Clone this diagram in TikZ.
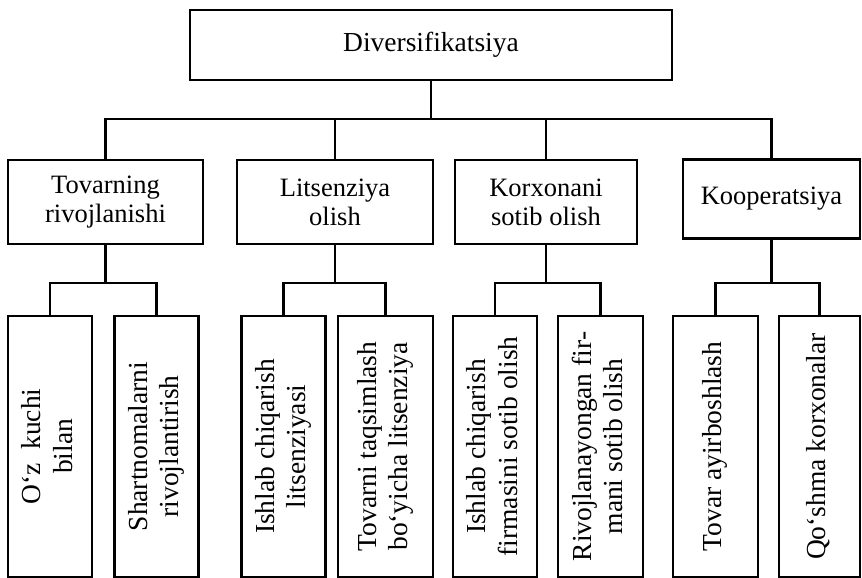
\documentclass[tikz,border=0pt]{standalone}
\usepackage{fontspec}
\setmainfont{Liberation Serif}
\usepackage{graphicx}
\newcommand{\vtext}[1]{\rotatebox{90}{\begin{tabular}{@{}c@{}}#1\end{tabular}}}
\renewcommand{\arraystretch}{1.05}

\begin{document}
\begin{tikzpicture}[x=1pt,y=-1pt,line width=2.2pt,
  box/.style={draw,align=center,inner sep=0pt,font=\fontsize{26.5}{29}\selectfont},
  leaf/.style={box,minimum width=84pt,minimum height=261pt,font=\fontsize{27.5}{30}\selectfont}]
\useasboundingbox (0,0) rectangle (862,578);

\node[box,minimum width=482pt,minimum height=70pt,font=\fontsize{27.5}{30}\selectfont] (Div) at (431,45) {Diversifikatsiya};

\node[box,minimum width=195pt,minimum height=84pt] (Tov) at (105.5,202) {Tovarning\\rivojlanishi};
\node[box,minimum width=196pt,minimum height=84pt] (Lit) at (335,202) {Litsenziya\\olish};
\node[box,minimum width=182pt,minimum height=84pt] (Kor) at (546,202) {Korxonani\\sotib olish};
\node[box,minimum width=177pt,minimum height=79pt] (Koop) at (771.5,199) {Kooperatsiya};

\node[leaf] (OzK) at (50,446.5) {\vtext{O‘z~ kuchi\\bilan}};
\node[leaf] (Shart) at (156.5,446.5) {\vtext{Shartnomalarni\\rivojlantirish}};
\node[leaf] (IshLit) at (283.5,446.5) {\vtext{Ishlab chiqarish\\litsenziyasi}};
\node[leaf,minimum width=95pt] (TovLit) at (385.5,446.5) {\vtext{Tovarni taqsimlash\\bo‘yicha litsenziya}};
\node[leaf] (IshFir) at (495,446.5) {\vtext{Ishlab chiqarish\\firmasini sotib olish}};
\node[leaf,minimum width=85pt] (RivFir) at (600.5,446.5) {\vtext{Rivojlanayongan fir-\\mani sotib olish}};
\node[leaf,minimum width=85pt] (TovAy) at (715.5,446.5) {\vtext{Tovar ayirboshlash}};
\node[leaf,minimum width=81pt] (Qosh) at (819.5,446.5) {\vtext{Qo‘shma korxonalar}};

\draw (Div.south) -- ++(0,38) coordinate (b0);
\draw (b0) -| (Tov.north);
\draw (b0) -| (Lit.north);
\draw (b0) -| (Kor.north);
\draw (b0) -| (Koop.north);

\draw (Tov.south) -- (Tov.south |- 0,283) coordinate (b1);
\draw (b1) -| (OzK.north);
\draw (b1) -| (Shart.north);
\draw (Lit.south) -- (Lit.south |- 0,283) coordinate (b2);
\draw (b2) -| (IshLit.north);
\draw (b2) -| (TovLit.north);
\draw (Kor.south) -- (Kor.south |- 0,283) coordinate (b3);
\draw (b3) -| (IshFir.north);
\draw (b3) -| (RivFir.north);
\draw (Koop.south) -- (Koop.south |- 0,283) coordinate (b4);
\draw (b4) -| (TovAy.north);
\draw (b4) -| (Qosh.north);

\end{tikzpicture}
\end{document}
